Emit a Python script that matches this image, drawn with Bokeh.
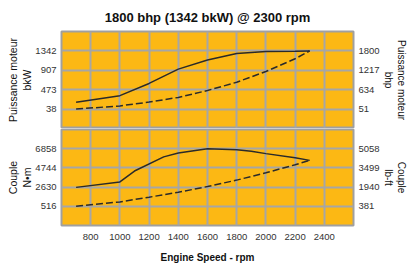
from bokeh.plotting import figure
from bokeh.models import Range1d, LinearAxis, FixedTicker, Title
from bokeh.layouts import column
from bokeh.embed import file_html
from bokeh.resources import INLINE

# ---- data ----
rpm_power_full = [700, 1000, 1200, 1400, 1600, 1800, 2000, 2200, 2300]
power_full_kw = [190, 339, 613, 934, 1140, 1282, 1327, 1335, 1342]
rpm_power_prop = [700, 1000, 1200, 1400, 1600, 1800, 2000, 2200, 2300]
power_prop_kw = [38, 110, 195, 300, 455, 640, 880, 1165, 1342]

rpm_torque_full = [700, 1000, 1100, 1300, 1400, 1600, 1800, 1900, 2000, 2200, 2300]
torque_full_nm = [2600, 3200, 4400, 5960, 6390, 6858, 6750, 6565, 6316, 5850, 5572]
rpm_torque_prop = [700, 1000, 1200, 1400, 1600, 1800, 2000, 2200, 2300]
torque_prop_nm = [516, 1000, 1520, 2060, 2690, 3400, 4200, 5090, 5572]

power_kw_ticks = [38, 473, 907, 1342]
power_bhp_ticks = [51, 634, 1217, 1800]
torque_nm_ticks = [516, 2630, 4744, 6858]
torque_lbft_ticks = [381, 1940, 3499, 5058]
rpm_ticks = [800, 1000, 1200, 1400, 1600, 1800, 2000, 2200, 2400]
rpm_limits = [600, 2600]

title_text = "1800 bhp (1342 bkW) @ 2300 rpm"
x_label = "Engine Speed - rpm"
power_left_title = ["Puissance moteur", "bkW"]
power_right_title = ["Puissance moteur", "bhp"]
torque_left_title = ["Couple", "N\u2022m"]
torque_right_title = ["Couple", "lb-ft"]

# ---- styling ----
BG = "#FCB814"
GRID = "#a6a6a6"
LINE = "#2a2a2a"
FONT = "Liberation Sans"
TICK_COLOR = "#333333"
TITLE_COLOR = "#111111"


def padded(t):
    step = (t[-1] - t[0]) / 3.0
    return Range1d(t[0] - step, t[-1] + step)


def style_ticks(ax, standoff):
    ax.major_label_text_font = FONT
    ax.major_label_text_font_size = "9.5px"
    ax.major_label_text_color = TICK_COLOR
    ax.major_label_standoff = standoff
    ax.axis_line_color = None
    ax.major_tick_line_color = None
    ax.minor_tick_line_color = None
    ax.major_tick_out = 0
    ax.major_tick_in = 0
    ax.minor_tick_out = 0
    ax.minor_tick_in = 0


def side_title(p, text, side, size, offset=0):
    t = Title(text=text, align="center", standoff=0, offset=offset, text_font=FONT,
              text_font_size=size, text_font_style="normal",
              text_color=TITLE_COLOR, text_line_height=1.0)
    p.add_layout(t, side)


def make_panel(height, top_border, bottom_border, left_ticks, right_ticks,
               left_lines, right_lines, unit_offsets, with_x_axis):
    p = figure(width=408, height=height, output_backend="svg", toolbar_location=None,
               x_range=Range1d(*rpm_limits), y_range=padded(left_ticks),
               min_border_left=61, min_border_right=52,
               min_border_top=top_border, min_border_bottom=bottom_border,
               background_fill_color=BG, border_fill_color="white",
               outline_line_color="#a0a0a0", outline_line_width=2)
    p.extra_y_ranges = {"right": padded(right_ticks)}
    lax = p.yaxis[0]
    style_ticks(lax, 5)
    lax.ticker = FixedTicker(ticks=left_ticks)
    rax = LinearAxis(y_range_name="right", ticker=FixedTicker(ticks=right_ticks))
    style_ticks(rax, 5)
    p.add_layout(rax, "right")
    # titles stack outward from the frame: unit line first, then the quantity name
    side_title(p, left_lines[1], "left", "10.5px", unit_offsets[0])
    side_title(p, left_lines[0], "left", "10.5px", 2)
    side_title(p, right_lines[1], "right", "10px", unit_offsets[1])
    side_title(p, right_lines[0], "right", "10px")

    xax = p.xaxis[0]
    xax.ticker = FixedTicker(ticks=rpm_ticks)
    p.xgrid.ticker = FixedTicker(ticks=rpm_ticks)
    p.ygrid.ticker = FixedTicker(ticks=left_ticks)
    for g in (p.xgrid, p.ygrid):
        g.grid_line_color = GRID
        g.grid_line_width = 2
    if with_x_axis:
        style_ticks(xax, 8)
        xax.axis_label = x_label
        xax.axis_label_text_font = FONT
        xax.axis_label_text_font_style = "bold"
        xax.axis_label_text_font_size = "10px"
        xax.axis_label_text_color = TITLE_COLOR
        xax.axis_label_standoff = 9
    else:
        xax.visible = False
    return p


p1 = make_panel(128, 30, 0, power_kw_ticks, power_bhp_ticks,
                power_left_title, power_right_title, (14, -7), False)
p1.title.text = title_text
p1.title.text_font = FONT
p1.title.text_font_size = "13px"
p1.title.text_font_style = "bold"
p1.title.text_color = TITLE_COLOR
p1.title.align = "center"
p1.title.offset = -5
p1.title.standoff = 14

p1.line(rpm_power_full, power_full_kw, line_color=LINE, line_width=1.5)
p1.line(rpm_power_prop, power_prop_kw, line_color=LINE, line_width=1.5, line_dash="7 3")

p2 = make_panel(137, 1, 38, torque_nm_ticks, torque_lbft_ticks,
                torque_left_title, torque_right_title, (-6, 7), True)
p2.line(rpm_torque_full, torque_full_nm, line_color=LINE, line_width=1.5)
p2.line(rpm_torque_prop, torque_prop_nm, line_color=LINE, line_width=1.5, line_dash="7 3")

layout = column(p1, p2, spacing=0)
open("out.html", "w").write(file_html(layout, INLINE))
